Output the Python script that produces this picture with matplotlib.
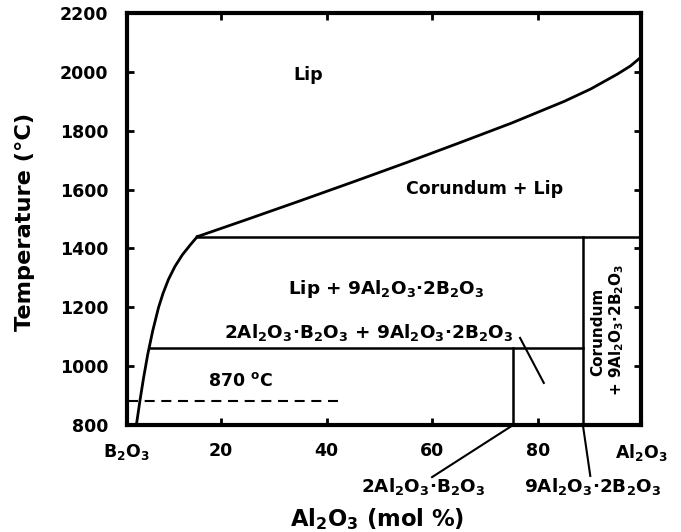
import matplotlib
matplotlib.use("Agg")
import matplotlib.pyplot as plt

plt.rcParams['font.family'] = ['DejaVu Sans']
plt.rcParams['font.weight'] = 'bold'
plt.rcParams['axes.labelweight'] = 'bold'
plt.rcParams['mathtext.fontset'] = 'custom'
plt.rcParams['mathtext.rm'] = 'DejaVu Sans:bold'
plt.rcParams['mathtext.it'] = 'DejaVu Sans:bold'
plt.rcParams['mathtext.bf'] = 'DejaVu Sans:bold'
plt.rcParams['mathtext.default'] = 'rm'

# liquidus, B2O3 side (mol % Al2O3, deg C)
left_x = [3.97, 4.62, 5.33, 6.12, 7.05, 8.16, 9.01, 10.05, 11.28, 12.70, 14.31, 15.5]
left_t = [800, 880, 960, 1040, 1119, 1199, 1247, 1295, 1339, 1379, 1415, 1440]
# liquidus, corundum side
right_x = [15.5, 25, 35, 45, 55, 65, 75, 85, 90, 95, 97.5, 99.5]
right_t = [1440, 1499, 1562, 1626, 1691, 1758, 1826, 1900, 1942, 1992, 2020, 2050]

t_peritectic = 1440
t_lower = 1060
t_dashed = 881
x_9a2b = 88.5   # 9Al2O3.2B2O3
x_2ab = 75.3    # 2Al2O3.B2O3

xticks = [2.1, 20, 40, 60, 80, 99.5]
xticklabels = ['B$_2$O$_3$', '20', '40', '60', '80', 'Al$_2$O$_3$']
yticks = [800, 1000, 1200, 1400, 1600, 1800, 2000, 2200]

fig = plt.figure(figsize=(6.81, 5.32), dpi=100)
ax = fig.add_axes([126.5 / 681, 1 - 425 / 532, 514.5 / 681, 412 / 532])
ax.set_xlim(2.1, 99.5)
ax.set_ylim(800, 2200)

lw = 2.0
ax.plot(left_x, left_t, color='black', lw=lw, solid_joinstyle='round')
ax.plot(right_x, right_t, color='black', lw=lw, solid_joinstyle='round')
ax.plot([15.5, 99.5], [t_peritectic, t_peritectic], color='black', lw=1.8)
ax.plot([x_9a2b, x_9a2b], [800, t_peritectic], color='black', lw=1.8)
ax.plot([6.36, x_9a2b], [t_lower, t_lower], color='black', lw=1.8)
ax.plot([x_2ab, x_2ab], [800, t_lower], color='black', lw=1.8)
ax.plot([2.4, 43], [t_dashed, t_dashed], color='black', lw=1.5,
        dashes=(4.8, 3.2))
# pointer from the two-phase label
ax.plot([76.6, 81.1], [1096, 943], color='black', lw=1.5)
# pointers to compound labels under the axis
ax.plot([x_2ab, 59.95], [800, 623], color='black', lw=1.5, clip_on=False)
ax.plot([x_9a2b, 89.9], [800, 627], color='black', lw=1.5, clip_on=False)

fs = 12.5
fs_f = 13.2
ax.text(36.5, 1989, 'Lip', fontsize=fs, ha='center', va='center')
ax.text(69.8, 1602, 'Corundum + Lip', fontsize=fs, ha='center', va='center')
ax.text(51.3, 1262, 'Lip + 9Al$_2$O$_3$·2B$_2$O$_3$', fontsize=fs_f,
        ha='center', va='center')
ax.text(47.95, 1116, '2Al$_2$O$_3$·B$_2$O$_3$ + 9Al$_2$O$_3$·2B$_2$O$_3$',
        fontsize=fs_f, ha='center', va='center')
ax.text(23.6, 950, '870 $^{o}$C', fontsize=fs, ha='center', va='center')
ax.text(91.3, 1118, 'Corundum', fontsize=11, rotation=90,
        ha='center', va='center')
ax.text(94.8, 1123, '+ 9Al$_2$O$_3$·2B$_2$O$_3$', fontsize=11, rotation=90,
        ha='center', va='center')
ax.text(58.3, 590, '2Al$_2$O$_3$·B$_2$O$_3$', fontsize=fs_f, ha='center',
        va='center', clip_on=False)
ax.text(90.3, 590, '9Al$_2$O$_3$·2B$_2$O$_3$', fontsize=fs_f, ha='center',
        va='center', clip_on=False)

ax.set_xticks(xticks)
ax.set_xticklabels(xticklabels)
ax.set_yticks(yticks)
ax.tick_params(axis='both', direction='in', length=5, width=2,
               labelsize=fs, top=True, right=True)
ax.tick_params(axis='x', pad=12)
ax.tick_params(axis='y', pad=13)
for s in ax.spines.values():
    s.set_linewidth(3)

ax.set_xlabel('Al$_2$O$_3$ (mol %)', fontsize=16.3)
ax.xaxis.set_label_coords(0.487, -0.198)
ax.set_ylabel('Temperature (°C)', fontsize=16.2)
ax.yaxis.set_label_coords(-0.178, 0.493)

fig.savefig('out.png', dpi=100)
